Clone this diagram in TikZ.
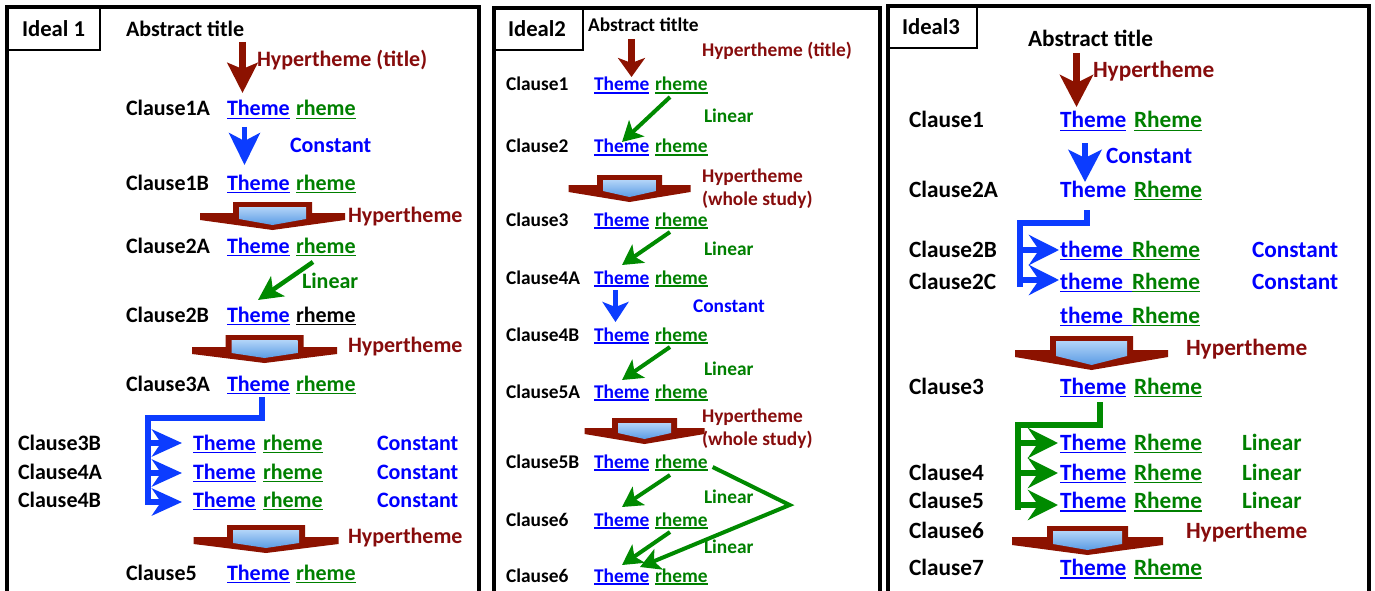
\documentclass[tikz,border=0pt]{standalone}
\usepackage{fontspec}
\setmainfont{Carlito}
\usetikzlibrary{arrows.meta,calc}
\definecolor{thblue}{RGB}{0,0,255}
\definecolor{rhgreen}{RGB}{0,128,0}
\definecolor{hyred}{RGB}{135,12,12}
\definecolor{arrbrown}{RGB}{140,18,0}
\definecolor{arrblue}{RGB}{12,60,255}
\definecolor{arrgreen}{RGB}{0,138,0}
\definecolor{hbl}{RGB}{178,212,248}
\definecolor{hbd}{RGB}{90,155,228}
\newcommand\myul[1]{\setbox0\hbox{#1}\rlap{\rule[-0.15em]{\wd0}{0.075em}}\box0}
\newcommand\hyparrow[7]{%
  \fill[arrbrown] (#1-#3,#2) -- (#1+#3,#2) -- (#1+#3,#2+#5) -- (#1+#4,#2+#5) -- (#1+#4,#2+#5+#6) -- (#1,#2+#7) -- (#1-#4,#2+#5+#6) -- (#1-#4,#2+#5) -- (#1-#3,#2+#5) -- cycle;
  \shade[top color=hbl, bottom color=hbd] (#1-#3+6,#2+5) -- (#1+#3-6,#2+5) -- (#1+#3-6,#2+#5+#6-1) -- (#1,#2+#7-5) -- (#1-#3+6,#2+#5+#6-1) -- cycle;}
\tikzset{
  txt/.style={anchor=base west, inner sep=0pt, outer sep=0pt},
  fA/.style={font=\bfseries\fontsize{22}{26}\selectfont},
  fB/.style={font=\bfseries\fontsize{19.4}{23}\selectfont},
  fC/.style={font=\bfseries\fontsize{23.3}{27}\selectfont},
  fI/.style={font=\bfseries\fontsize{22.7}{27}\selectfont},
  cl/.style={txt,text=black},
  th/.style={txt,text=thblue},
  rh/.style={txt,text=rhgreen},
  hy/.style={txt,text=hyred},
  co/.style={txt,text=thblue},
  li/.style={txt,text=rhgreen},
  panel/.style={draw=black, line width=4pt},
  labbox/.style={draw=black, line width=1.2pt},
  brownarr/.style={draw=arrbrown, line width=7pt},
  bluearr/.style={draw=arrblue, line width=5pt},
  greenarr/.style={draw=arrgreen, line width=4.5pt},
  bluebr/.style={draw=arrblue, line width=6pt, line join=miter},
  greenbr/.style={draw=arrgreen, line width=6pt, line join=miter},
}
\begin{document}
\begin{tikzpicture}[x=1pt,y=-1pt]
\useasboundingbox (0,0) rectangle (1375,591);
\clip (0,0) rectangle (1375,591);
\fill[white] (0,0) rectangle (1375,591);
% panels
\draw[panel] (7,7) rectangle (478.5,620);
\draw[panel] (493.5,8.5) rectangle (880,620);
\draw[panel] (888,6.5) rectangle (1368.5,620);
\draw[labbox] (7,7) rectangle (100,50);
\draw[labbox] (493.5,8.5) rectangle (583,50);
\draw[labbox] (888,6.5) rectangle (977,48);

% ---------------- Panel 1 ----------------
\node[cl,fI] (id1) at (22,37) {Ideal 1};
\node[cl,fA] (abs1) at (126,37) {Abstract title};
\node[hy,fA] (hy1) at (257,67) {Hypertheme (title)};
\node[cl,fA] (c1a) at (126,116) {Clause1A};
\node[th,fA] (t1a) at (227,116) {\myul{Theme}};
\node[rh,fA] (r1a) at (296,116) {\myul{rheme}};
\node[co,fA] (k1) at (290,153) {Constant};
\node[cl,fA] (c1b) at (126,190) {Clause1B};
\node[th,fA] (t1b) at (227,190) {\myul{Theme}};
\node[rh,fA] (r1b) at (296,190) {\myul{rheme}};
\node[hy,fA] (hy2) at (348,222) {Hypertheme};
\node[cl,fA] (c2a) at (126,253) {Clause2A};
\node[th,fA] (t2a) at (227,253) {\myul{Theme}};
\node[rh,fA] (r2a) at (296,253) {\myul{rheme}};
\node[li,fA] (l1) at (302,288) {Linear};
\node[cl,fA] (c2b) at (126,322) {Clause2B};
\node[th,fA] (t2b) at (227,322) {\myul{Theme}};
\node[cl,fA] (r2b) at (296,322) {\myul{rheme}};
\node[hy,fA] (hy3) at (348,352) {Hypertheme};
\node[cl,fA] (c3a) at (126,391) {Clause3A};
\node[th,fA] (t3a) at (227,391) {\myul{Theme}};
\node[rh,fA] (r3a) at (296,391) {\myul{rheme}};
\node[cl,fA] (c3b) at (18,450) {Clause3B};
\node[th,fA] (t3b) at (193,450) {\myul{Theme}};
\node[rh,fA] (r3b) at (263,450) {\myul{rheme}};
\node[co,fA] (k2) at (377,450) {Constant};
\node[cl,fA] (c4a) at (18,479) {Clause4A};
\node[th,fA] (t4a) at (193,479) {\myul{Theme}};
\node[rh,fA] (r4a) at (263,479) {\myul{rheme}};
\node[co,fA] (k3) at (377,479) {Constant};
\node[cl,fA] (c4b) at (18,507) {Clause4B};
\node[th,fA] (t4b) at (193,507) {\myul{Theme}};
\node[rh,fA] (r4b) at (263,507) {\myul{rheme}};
\node[co,fA] (k4) at (377,507) {Constant};
\node[hy,fA] (hy4) at (348,543) {Hypertheme};
\node[cl,fA] (c5) at (126,580) {Clause5};
\node[th,fA] (t5) at (227,580) {\myul{Theme}};
\node[rh,fA] (r5) at (296,580) {\myul{rheme}};

\hyparrow{272.5}{202}{39.5}{72.5}{11}{7}{28}
\hyparrow{264.5}{335}{39}{72.5}{12}{7}{28}
\hyparrow{266}{525}{39}{72.5}{12}{7}{28}

\draw[brownarr,-{Stealth[length=30pt,width=30pt,inset=6pt]}] ($(abs1.base west)+(116.5,5)$) -- ($(t1a.base west)+(15.5,-23)$);
\draw[bluearr,-{Stealth[length=32pt,width=31pt,inset=8pt]}] ($(t1a.base west)+(17.5,11)$) -- ($(t1b.base west)+(17.5,-25)$);
\draw[greenarr,-{Stealth[length=24pt,width=24pt,inset=6pt]}] ($(r2a.base west)+(17,9)$) -- ($(t2b.base west)+(31,-22)$);
\draw[bluebr] ($(t3a.base west)+(35,6)$) |- ($(t3b.base west)+(-45,-32)$) -- ($(t4b.base west)+(-45,-2)$);
\draw[bluebr,-{Stealth[length=30pt,width=27pt,inset=9pt]}] ($(t3b.base west)+(-45,-7)$) -- ($(t3b.base west)+(-11,-7)$);
\draw[bluebr,-{Stealth[length=30pt,width=27pt,inset=9pt]}] ($(t4a.base west)+(-45,-6)$) -- ($(t4a.base west)+(-11,-6)$);
\draw[bluebr,-{Stealth[length=30pt,width=27pt,inset=9pt]}] ($(t4b.base west)+(-45,-5)$) -- ($(t4b.base west)+(-11,-5)$);

% ---------------- Panel 2 ----------------
\node[cl,fI] (id2) at (508,37) {Ideal2};
\node[cl,fB] (abs2) at (588,32) {Abstract titlte};
\node[hy,fB] (hy5) at (702,57) {Hypertheme (title)};
\node[cl,fB] (d1) at (506,91) {Clause1};
\node[th,fB] (u1) at (594,91) {\myul{Theme}};
\node[rh,fB] (v1) at (655,91) {\myul{rheme}};
\node[li,fB] (l2) at (704,123) {Linear};
\node[cl,fB] (d2) at (506,153) {Clause2};
\node[th,fB] (u2) at (594,153) {\myul{Theme}};
\node[rh,fB] (v2) at (655,153) {\myul{rheme}};
\node[hy,fB] (hy6) at (702,182) {Hypertheme};
\node[hy,fB] (hy6b) at (702,205) {(whole study)};
\node[cl,fB] (d3) at (506,226) {Clause3};
\node[th,fB] (u3) at (594,226) {\myul{Theme}};
\node[rh,fB] (v3) at (655,226) {\myul{rheme}};
\node[li,fB] (l3) at (704,255) {Linear};
\node[cl,fB] (d4) at (506,284) {Clause4A};
\node[th,fB] (u4) at (594,284) {\myul{Theme}};
\node[rh,fB] (v4) at (655,284) {\myul{rheme}};
\node[co,fB] (k5) at (693,312) {Constant};
\node[cl,fB] (d5) at (506,341) {Clause4B};
\node[th,fB] (u5) at (594,341) {\myul{Theme}};
\node[rh,fB] (v5) at (655,341) {\myul{rheme}};
\node[li,fB] (l4) at (704,375) {Linear};
\node[cl,fB] (d6) at (506,398) {Clause5A};
\node[th,fB] (u6) at (594,398) {\myul{Theme}};
\node[rh,fB] (v6) at (655,398) {\myul{rheme}};
\node[hy,fB] (hy7) at (702,422) {Hypertheme};
\node[hy,fB] (hy7b) at (702,445) {(whole study)};
\node[cl,fB] (d7) at (506,468) {Clause5B};
\node[th,fB] (u7) at (594,468) {\myul{Theme}};
\node[rh,fB] (v7) at (655,468) {\myul{rheme}};
\node[li,fB] (l5) at (704,503) {Linear};
\node[cl,fB] (d8) at (506,526) {Clause6};
\node[th,fB] (u8) at (594,526) {\myul{Theme}};
\node[rh,fB] (v8) at (655,526) {\myul{rheme}};
\node[li,fB] (l6) at (704,553) {Linear};
\node[cl,fB] (d9) at (506,582) {Clause6};
\node[th,fB] (u9) at (594,582) {\myul{Theme}};
\node[rh,fB] (v9) at (655,582) {\myul{rheme}};

\hyparrow{629.5}{175}{32.5}{61}{10}{7}{27}
\hyparrow{644.5}{418}{32.5}{60}{10}{6}{26}

\draw[brownarr,-{Stealth[length=19pt,width=27pt,inset=5pt]}] ($(abs2.base west)+(43.5,7)$) -- ($(u1.base west)+(37.5,-14)$);
\draw[greenarr,line width=4pt,-{Stealth[length=20pt,width=22pt,inset=5pt]}] ($(v1.base west)+(15,6)$) -- ($(u2.base west)+(28,-11)$);
\draw[greenarr,line width=4pt,-{Stealth[length=20pt,width=22pt,inset=5pt]}] ($(v3.base west)+(15,6)$) -- ($(u4.base west)+(28,-19)$);
\draw[bluearr,-{Stealth[length=20pt,width=26pt,inset=5pt]}] ($(u4.base west)+(21.5,6)$) -- ($(u5.base west)+(21.5,-19)$);
\draw[greenarr,line width=4pt,-{Stealth[length=20pt,width=22pt,inset=5pt]}] ($(v5.base west)+(15,6)$) -- ($(u6.base west)+(28,-18)$);
\draw[greenarr,line width=4pt,-{Stealth[length=20pt,width=22pt,inset=5pt]}] ($(v7.base west)+(15,7)$) -- ($(u8.base west)+(28,-19)$);
\draw[greenarr,line width=4pt,line join=miter,-{Stealth[length=20pt,width=22pt,inset=5pt]}] ($(v7.base east)+(5,-1)$) -- ++(77,38) -- ($(u9.base west)+(46,-15)$);
\draw[greenarr,line width=4pt,-{Stealth[length=20pt,width=22pt,inset=5pt]}] ($(v8.base west)+(15,6)$) -- ($(u9.base west)+(28,-17)$);

% ---------------- Panel 3 ----------------
\node[cl,fI] (id3) at (902,35) {Ideal3};
\node[cl,fC] (abs3) at (1028,47) {Abstract title};
\node[hy,fC] (hy8) at (1093,78) {Hypertheme};
\node[cl,fC] (e1) at (909,128) {Clause1};
\node[th,fC] (w1) at (1060,128) {\myul{Theme}};
\node[rh,fC] (x1) at (1134,128) {\myul{Rheme}};
\node[co,fC] (k6) at (1106,163) {Constant};
\node[cl,fC] (e2) at (909,197) {Clause2A};
\node[th,fC] (w2) at (1060,197) {Theme};
\node[rh,fC] (x2) at (1134,197) {\myul{Rheme}};
\node[cl,fC] (e3) at (909,257) {Clause2B};
\node[th,fC] (w3) at (1060,257) {\myul{\makebox[72pt][l]{theme}}};
\node[rh,fC] (x3) at (1132,257) {\myul{Rheme}};
\node[co,fC] (k7) at (1252,257) {Constant};
\node[cl,fC] (e4) at (909,289) {Clause2C};
\node[th,fC] (w4) at (1060,289) {\myul{\makebox[72pt][l]{theme}}};
\node[rh,fC] (x4) at (1132,289) {\myul{Rheme}};
\node[co,fC] (k8) at (1252,289) {Constant};
\node[th,fC] (w5) at (1060,323) {\myul{\makebox[72pt][l]{theme}}};
\node[rh,fC] (x5) at (1132,323) {\myul{Rheme}};
\node[hy,fC] (hy9) at (1186,355) {Hypertheme};
\node[cl,fC] (e5) at (909,394) {Clause3};
\node[th,fC] (w6) at (1060,394) {\myul{Theme}};
\node[rh,fC] (x6) at (1134,394) {\myul{Rheme}};
\node[th,fC] (w7) at (1060,450) {\myul{Theme}};
\node[rh,fC] (x7) at (1134,450) {\myul{Rheme}};
\node[li,fC] (l7) at (1242,450) {Linear};
\node[cl,fC] (e6) at (909,480) {Clause4};
\node[th,fC] (w8) at (1060,480) {\myul{Theme}};
\node[rh,fC] (x8) at (1134,480) {\myul{Rheme}};
\node[li,fC] (l8) at (1242,480) {Linear};
\node[cl,fC] (e7) at (909,508) {Clause5};
\node[th,fC] (w9) at (1060,508) {\myul{Theme}};
\node[rh,fC] (x9) at (1134,508) {\myul{Rheme}};
\node[li,fC] (l9) at (1242,508) {Linear};
\node[cl,fC] (e8) at (909,538) {Clause6};
\node[hy,fC] (hy10) at (1186,538) {Hypertheme};
\node[cl,fC] (e9) at (909,575) {Clause7};
\node[th,fC] (w10) at (1060,575) {\myul{Theme}};
\node[rh,fC] (x10) at (1134,575) {\myul{Rheme}};

\hyparrow{1091.5}{336}{41.5}{76.5}{14}{7}{34}
\hyparrow{1087.5}{526}{40.5}{75.5}{11}{8}{29}

\draw[brownarr,-{Stealth[length=32pt,width=33pt,inset=8pt]}] ($(abs3.base west)+(48.5,6)$) -- ($(w1.base west)+(16.5,-21)$);
\draw[bluearr,line width=6pt,-{Stealth[length=32pt,width=33pt,inset=8pt]}] ($(w1.base west)+(25,15)$) -- ($(w2.base west)+(25,-15)$);
\draw[bluebr,line width=5.5pt] ($(w2.base west)+(27,13)$) |- ($(w3.base west)+(-40,-34)$) -- ($(w4.base west)+(-40,-2)$);
\draw[bluebr,line width=5.5pt,-{Stealth[length=30pt,width=30pt,inset=10pt]}] ($(w3.base west)+(-40,-7)$) -- ($(w3.base west)+(-1,-7)$);
\draw[bluebr,line width=5.5pt,-{Stealth[length=30pt,width=30pt,inset=10pt]}] ($(w4.base west)+(-40,-9)$) -- ($(w4.base west)+(-1,-9)$);
\draw[greenbr] ($(w6.base west)+(40,8)$) |- ($(w7.base west)+(-42,-25)$) -- ($(w9.base west)+(-42,2)$);
\draw[greenbr,-{Stealth[length=30pt,width=30pt,inset=10pt]}] ($(w7.base west)+(-42,-7)$) -- ($(w7.base west)+(-2,-7)$);
\draw[greenbr,-{Stealth[length=30pt,width=30pt,inset=10pt]}] ($(w8.base west)+(-42,-7)$) -- ($(w8.base west)+(-2,-7)$);
\draw[greenbr,-{Stealth[length=30pt,width=30pt,inset=10pt]}] ($(w9.base west)+(-42,-3)$) -- ($(w9.base west)+(-2,-3)$);
\end{tikzpicture}
\end{document}
